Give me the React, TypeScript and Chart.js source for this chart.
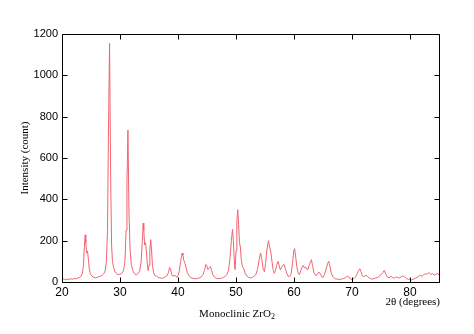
import React, { useEffect, useRef } from "react";
import { Chart, registerables } from "chart.js";

Chart.register(...registerables);

const twoTheta = [
  20.0, 20.3, 20.6, 20.9, 21.2, 21.5, 21.8, 22.1, 22.4, 22.7, 23.0, 23.3, 23.5, 23.7, 23.85, 24.0, 24.1, 24.25, 24.4, 24.55, 24.7, 24.9,
  25.1, 25.4, 25.7, 26.0, 26.3, 26.6, 26.9, 27.2, 27.45, 27.65, 27.85, 28.0, 28.2, 28.4, 28.55, 28.7, 28.9,
  29.1, 29.4, 29.7, 30.0, 30.3, 30.6, 30.85, 31.05, 31.2, 31.37, 31.55, 31.75, 31.95, 32.2, 32.5, 32.8,
  33.1, 33.4, 33.65, 33.85, 34.0, 34.1, 34.25, 34.4, 34.55, 34.7, 34.85, 35.0, 35.15, 35.3, 35.45, 35.6, 35.8,
  36.0, 36.3, 36.6, 36.9, 37.2, 37.5, 37.8, 38.1, 38.35, 38.55, 38.7, 38.9, 39.1, 39.35, 39.6, 39.8,
  40.0, 40.2, 40.45, 40.7, 40.85, 41.0, 41.2, 41.4, 41.6, 41.9, 42.2, 42.5, 42.8, 43.1, 43.4, 43.7,
  44.0, 44.3, 44.55, 44.8, 44.95, 45.15, 45.35, 45.6, 45.8, 46.0, 46.3, 46.6, 46.9, 47.2, 47.5, 47.8,
  48.1, 48.4, 48.7, 48.95, 49.2, 49.4, 49.55, 49.75, 49.85, 50.0, 50.15, 50.3, 50.45, 50.6, 50.75, 50.9,
  51.1, 51.25, 51.4, 51.6, 51.9, 52.2, 52.5, 52.8, 53.1, 53.4, 53.7, 54.0, 54.25, 54.45, 54.7, 54.9,
  55.1, 55.35, 55.6, 55.8, 56.0, 56.2, 56.4, 56.6, 56.8, 57.0, 57.25, 57.45, 57.65, 57.85, 58.1, 58.3, 58.5, 58.75,
  59.0, 59.25, 59.5, 59.75, 59.95, 60.1, 60.3, 60.5, 60.75, 60.95, 61.15, 61.4, 61.6, 61.8, 62.0, 62.2, 62.4, 62.6, 62.85,
  63.0, 63.2, 63.45, 63.75, 64.0, 64.3, 64.55, 64.8, 65.0, 65.25, 65.5, 65.8, 66.0, 66.2, 66.45, 66.8,
  67.1, 67.4, 67.7, 68.0, 68.3, 68.6, 68.9, 69.2, 69.45, 69.7, 70.0, 70.3, 70.6, 70.9, 71.15, 71.35, 71.55, 71.8,
  72.1, 72.35, 72.6, 72.9, 73.2, 73.5, 73.8, 74.1, 74.4, 74.7, 75.0, 75.3, 75.55, 75.8, 76.1, 76.4, 76.7,
  77.0, 77.3, 77.6, 77.9, 78.2, 78.5, 78.8, 79.1, 79.4, 79.7, 80.0, 80.3, 80.6, 80.9, 81.2, 81.5, 81.8,
  82.1, 82.4, 82.7, 83.0, 83.3, 83.6, 83.9, 84.2, 84.5, 84.8, 85.0,
];

const intensity = [
  12, 15, 11, 14, 12, 16, 13, 17, 15, 19, 22, 28, 40, 80, 170, 228, 190, 140, 150, 110, 65, 40,
  30, 24, 20, 22, 25, 28, 32, 40, 55, 95, 250, 700, 1155, 480, 180, 100, 70,
  52, 40, 36, 38, 42, 55, 100, 250, 480, 735, 330, 150, 85, 55, 40, 35,
  40, 55, 100, 200, 285, 250, 180, 190, 150, 90, 55, 80, 160, 205, 150, 80, 45,
  32, 28, 22, 20, 18, 20, 24, 30, 45, 70, 65, 38, 28, 32, 30, 22,
  30, 50, 100, 140, 130, 105, 90, 70, 45, 30, 22, 18, 17, 15, 18, 20,
  25, 35, 55, 85, 80, 60, 65, 75, 55, 35, 24, 18, 16, 17, 18, 22,
  26, 35, 55, 110, 200, 255, 200, 80, 60, 150, 290, 350, 280, 190, 170, 110,
  75, 68, 60, 40, 28, 22, 20, 22, 28, 35, 60, 110, 140, 110, 60, 50,
  90, 160, 200, 170, 145, 100, 60, 42, 55, 80, 100, 80, 58, 70, 82, 84, 65, 42,
  28, 26, 40, 90, 150, 162, 120, 70, 40, 36, 55, 72, 80, 68, 72, 62, 60, 80, 100,
  108, 80, 45, 32, 35, 48, 40, 25, 22, 35, 60, 90, 100, 75, 40, 22,
  16, 14, 13, 12, 15, 18, 22, 28, 25, 15, 12, 16, 25, 40, 55, 64, 50, 30,
  25, 33, 30, 20, 16, 14, 16, 20, 22, 28, 35, 45, 56, 40, 25, 20, 28,
  22, 18, 25, 22, 20, 25, 30, 24, 16, 14, 12, 10, 14, 18, 22, 28, 32,
  28, 36, 40, 38, 46, 36, 40, 34, 38, 42, 32,
];

const xTicks = [20, 30, 40, 50, 60, 70, 80];
const yTicks = [0, 200, 400, 600, 800, 1000, 1200];

const xAxisLabel = "2θ (degrees)";
const yAxisLabel = "Intensity (count)";
const captionText = "Monoclinic ZrO";
const captionSub = "2";

const framePlugin = {
  id: "frameTicks",
  afterDraw(chart: any) {
    const { ctx, chartArea, scales } = chart;
    const { left, right, top, bottom } = chartArea;
    const L = Math.round(left) + 0.5;
    const R = Math.round(right) + 0.5;
    const T = Math.round(top) + 0.5;
    const B = Math.round(bottom) + 0.5;
    const len = 5;
    ctx.save();
    ctx.strokeStyle = "#000";
    ctx.lineWidth = 1;
    ctx.beginPath();
    ctx.rect(L, T, R - L, B - T);
    xTicks.forEach((v) => {
      const px = Math.round(scales.x.getPixelForValue(v)) + 0.5;
      ctx.moveTo(px, B);
      ctx.lineTo(px, B - len);
      ctx.moveTo(px, T);
      ctx.lineTo(px, T + len);
    });
    yTicks.forEach((v) => {
      const py = Math.round(scales.y.getPixelForValue(v)) + 0.5;
      ctx.moveTo(L, py);
      ctx.lineTo(L + len, py);
      ctx.moveTo(R, py);
      ctx.lineTo(R - len, py);
    });
    ctx.stroke();

    ctx.fillStyle = "#000";
    ctx.font = "11px 'Liberation Serif', 'Times New Roman', serif";
    ctx.textAlign = "right";
    ctx.textBaseline = "middle";
    ctx.fillText(xAxisLabel, right + 1, 302);
    ctx.save();
    ctx.translate(25, (top + bottom) / 2);
    ctx.rotate(-Math.PI / 2);
    ctx.textAlign = "center";
    ctx.fillText(yAxisLabel, 0, 0);
    ctx.restore();
    ctx.textAlign = "left";
    const w1 = ctx.measureText(captionText).width;
    ctx.font = "8px 'Liberation Serif', 'Times New Roman', serif";
    const w2 = ctx.measureText(captionSub).width;
    const cx = 237;
    const startX = cx - (w1 + w2) / 2;
    ctx.font = "11px 'Liberation Serif', 'Times New Roman', serif";
    ctx.fillText(captionText, startX, 314);
    ctx.font = "8px 'Liberation Serif', 'Times New Roman', serif";
    ctx.fillText(captionSub, startX + w1, 317);
    ctx.restore();
  },
};

export default function App() {
  const ref = useRef<HTMLCanvasElement | null>(null);
  useEffect(() => {
    if (!ref.current) return;
    const points = twoTheta.map((x, i) => ({ x, y: intensity[i] }));
    const chart = new Chart(ref.current, {
      type: "line",
      data: {
        datasets: [
          {
            data: points,
            borderColor: "rgb(240, 100, 112)",
            borderWidth: 1,
            pointRadius: 0,
            tension: 0,
            fill: false,
          },
        ],
      },
      options: {
        animation: false,
        responsive: false,
        devicePixelRatio: 1,
        layout: { padding: { left: 0, right: 35, top: 34, bottom: 0 } },
        plugins: { legend: { display: false }, tooltip: { enabled: false } },
        scales: {
          x: {
            type: "linear",
            min: 20,
            max: 85,
            grid: { display: false, drawTicks: false },
            border: { display: false },
            afterBuildTicks: (s: any) => {
              s.ticks = xTicks.map((v) => ({ value: v }));
            },
            afterFit: (s: any) => {
              s.height = 52;
            },
            ticks: {
              padding: 3,
              color: "#000",
              font: { family: "'Liberation Sans', Arial, sans-serif", size: 12 },
              maxRotation: 0,
              autoSkip: false,
              callback: (v: any) => String(v),
            },
          },
          y: {
            min: 0,
            max: 1200,
            grid: { display: false, drawTicks: false },
            border: { display: false },
            afterBuildTicks: (s: any) => {
              s.ticks = yTicks.map((v) => ({ value: v }));
            },
            afterFit: (s: any) => {
              s.width = 62;
            },
            ticks: {
              padding: 4,
              color: "#000",
              font: { family: "'Liberation Sans', Arial, sans-serif", size: 11 },
              autoSkip: false,
              callback: (v: any) => String(v),
            },
          },
        },
      },
      plugins: [framePlugin],
    });
    return () => chart.destroy();
  }, []);
  return (
    <div style={{ position: "absolute", left: 0, top: 0, width: 474, height: 334, background: "#fff" }}>
      <canvas ref={ref} width={474} height={334} />
    </div>
  );
}
